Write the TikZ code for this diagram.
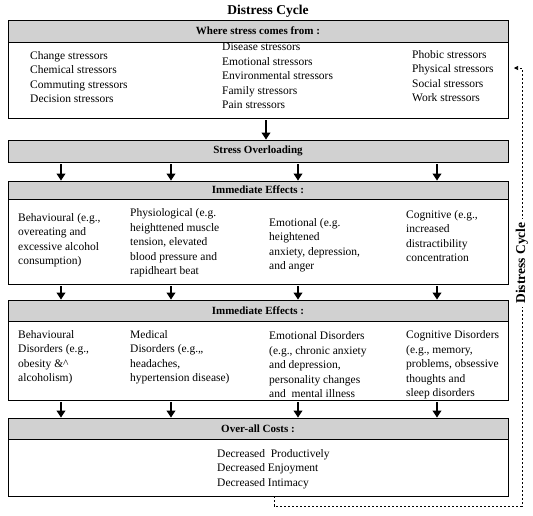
\documentclass[tikz,border=0pt]{standalone}
\usepackage{fontspec}
\setmainfont{Liberation Serif}
\usetikzlibrary{arrows.meta}
\begin{document}
\begin{tikzpicture}[x=1pt,y=-1pt,
  hdr/.style={draw,line width=0.8pt,fill=black!18,minimum width=500pt,inner sep=0pt,
    font=\bfseries\fontsize{11}{13}\selectfont},
  bodybox/.style={draw,line width=0.8pt,minimum width=500pt,inner sep=0pt},
  txt/.style={anchor=west,align=left,inner sep=0pt,font=\fontsize{11.5}{14.5}\selectfont},
  arr/.style={line width=1.8pt,-{Triangle[length=7pt,width=8.5pt]},shorten <=2pt},
  cyc/.style={line width=0.6pt,dash pattern=on 2pt off 2pt,-{Triangle[length=4pt,width=4pt]}}]
\useasboundingbox (0,0) rectangle (533,515);

\node[font=\bfseries\fontsize{13.5}{15}\selectfont] (title) at (268,11) {Distress Cycle};

\node[hdr,minimum height=22pt] (src) at (258,31) {Where stress comes from :};
\node[bodybox,minimum height=76pt] (srcb) at (258,80) {};
\node[txt] (s1) at (30,77) {Change stressors\\Chemical stressors\\Commuting stressors\\Decision stressors};
\node[txt] (s2) at (222,76) {Disease stressors\\Emotional stressors\\Environmental stressors\\Family stressors\\Pain stressors};
\node[txt] (s3) at (412,76) {Phobic stressors\\Physical stressors\\Social stressors\\Work stressors};

\node[hdr,minimum height=22pt] (so) at (258,151) {Stress Overloading};

\node[hdr,minimum height=18pt] (ie) at (258,190) {Immediate Effects :};
\node[bodybox,minimum height=85pt] (ieb) at (258,241.5) {};
\node[txt] (e1) at (18,240) {Behavioural (e.g.,\\overeating and\\excessive alcohol\\consumption)};
\node[txt] (e2) at (130,243) {Physiological (e.g.\\heighttened muscle\\tension, elevated\\blood pressure and\\rapidheart beat};
\node[txt] (e3) at (269,245) {Emotional (e.g.\\heightened\\anxiety, depression,\\and anger};
\node[txt] (e4) at (406,236) {Cognitive (e.g.,\\increased\\distractibility\\concentration};

\node[hdr,minimum height=21pt] (ld) at (258,310.5) {Immediate Effects :};
\node[bodybox,minimum height=79pt] (ldb) at (258,360.5) {};
\node[txt] (d1) at (18,357) {Behavioural\\Disorders (e.g.,\\obesity \&\textasciicircum\\alcoholism)};
\node[txt] (d2) at (130,357) {Medical\\Disorders (e.g.,,\\headaches,\\hypertension disease)};
\node[txt] (d3) at (269,365) {Emotional Disorders\\(e.g., chronic anxiety\\and depression,\\personality changes\\and\ \ mental illness};
\node[txt] (d4) at (406,365) {Cognitive Disorders\\(e.g., memory,\\problems, obsessive\\thoughts and\\sleep disorders};

\node[hdr,minimum height=21pt] (oc) at (258,428.5) {Over-all Costs :};
\node[bodybox,minimum height=57pt] (ocb) at (258,467.5) {};
\node[txt] (c1) at (217,469) {Decreased\ \ Productively\\Decreased Enjoyment\\Decreased Intimacy};

\coordinate (xm) at (266,0);
\coordinate (xa) at (61,0);
\coordinate (xb) at (171,0);
\coordinate (xc) at (298,0);
\coordinate (xd) at (437,0);
\draw[arr] (srcb.south -| xm) -- (so.north -| xm);
\foreach \k in {xa,xb,xc,xd}{
  \draw[arr] (so.south -| \k) -- (ie.north -| \k);
  \draw[arr] (ieb.south -| \k) -- (ld.north -| \k);
  \draw[arr] (ldb.south -| \k) -- (oc.north -| \k);
}

\coordinate (xs) at (274,0);
\coordinate (cb) at (522,506);
\coordinate (tip) at (514,68);
\draw[cyc] (ocb.south -| xs) |- (cb) |- (tip);
\node[rotate=90,fill=white,inner sep=3pt,font=\bfseries\fontsize{13.5}{15}\selectfont] (dc) at (522,263) {Distress Cycle};
\end{tikzpicture}
\end{document}
